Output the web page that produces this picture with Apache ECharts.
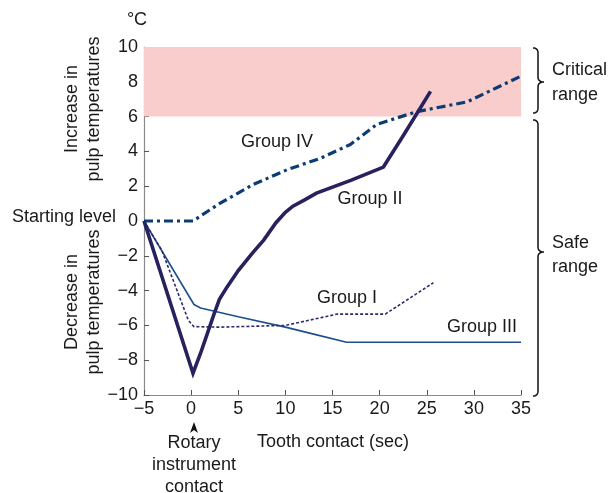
<!DOCTYPE html>
<html><head><meta charset="utf-8">
<script src="https://cdn.jsdelivr.net/npm/echarts@6/dist/echarts.min.js"></script>
<style>html,body{margin:0;padding:0;background:#fff}#c{width:610px;height:493px}</style>
</head><body><div id="c"></div>
<script>
var xTicks = [-5, 0, 5, 10, 15, 20, 25, 30, 35];
var yTicks = [-10, -8, -6, -4, -2, 0, 2, 4, 6, 8, 10];
var criticalRange = [6, 10];

var groupI_x  = [-5, -3.1, -0.3, 0.3, 3, 10, 15.5, 20.6, 25.7];
var groupI_y  = [0, -1.7, -5.7, -6.07, -6.1, -6.0, -5.35, -5.35, -3.55];

var groupII_x = [-5, 0.2, 1.0, 1.7, 2.4, 3.0, 3.8, 5, 6.5, 7.7, 9, 10, 10.8, 12, 13.3, 17, 20.4, 22.5, 25.4];
var groupII_y = [0, -8.75, -7.6, -6.5, -5.4, -4.5, -3.8, -2.85, -1.85, -1.1, -0.1, 0.5, 0.85, 1.2, 1.6, 2.35, 3.1, 4.9, 7.45];

var groupIII_x = [-5, 0.3, 1, 5, 10, 13, 16.5, 35];
var groupIII_y = [0, -4.8, -5.0, -5.5, -6.1, -6.5, -6.97, -6.97];

var groupIV_x = [-5, 0.2, 3, 6.6, 10.2, 13.7, 16.9, 19.7, 23.9, 29.3, 34.9];
var groupIV_y = [0, 0, 1.0, 2.1, 2.95, 3.6, 4.4, 5.55, 6.28, 6.85, 8.3];

function zip(xs, ys) { return xs.map(function (x, i) { return [x, ys[i]]; }); }

var FONT = 'Liberation Sans, Arial, sans-serif';
var TXT = '#1a1a1a';
var chart = echarts.init(document.getElementById('c'), null, {renderer: 'canvas'});

function quad(p0, p1, p2, out) {
  for (var t = 0; t <= 1.0001; t += 0.125) {
    var a = (1 - t) * (1 - t), b = 2 * (1 - t) * t, c = t * t;
    out.push([a * p0[0] + b * p1[0] + c * p2[0], a * p0[1] + b * p1[1] + c * p2[1]]);
  }
}
function brace(x0, x1, x2, yt, ym, yb) {
  var r = 5, pts = [];
  quad([x0, yt], [x1, yt], [x1, yt + r], pts);
  pts.push([x1, ym - r]);
  quad([x1, ym - r], [x1, ym], [x2, ym], pts);
  quad([x2, ym], [x1, ym], [x1, ym + r], pts);
  pts.push([x1, yb - r]);
  quad([x1, yb - r], [x1, yb], [x0, yb], pts);
  return {type: 'polyline', shape: {points: pts}, style: {stroke: '#111', fill: null, lineWidth: 1.5}};
}

function txt(x, y, s, opts) {
  opts = opts || {};
  return {
    type: 'text', x: x, y: y, rotation: opts.rot || 0,
    style: {text: s, font: '18px ' + FONT, fill: TXT,
      textAlign: opts.align || 'center', textVerticalAlign: 'middle', lineHeight: opts.lh || 22}
  };
}

var option = {
  animation: false,
  grid: {left: 144, top: 47, right: 89, bottom: 98, containLabel: false},
  xAxis: {
    type: 'value', min: -5, max: 35, interval: 5,
    axisLine: {show: true, onZero: false, lineStyle: {color: '#8a8a8a', width: 1.2}},
    axisTick: {show: true, inside: true, length: 5, lineStyle: {color: '#555'}},
    axisLabel: {color: TXT, fontSize: 18, fontFamily: FONT, margin: 5,
      formatter: function (v) { return xTicks.indexOf(v) >= 0 ? String(v).replace('-', '\u2212') : ''; }},
    splitLine: {show: false}
  },
  yAxis: {
    type: 'value', min: -10, max: 10, interval: 2,
    axisLine: {show: true, onZero: false, lineStyle: {color: '#8a8a8a', width: 1.2}},
    axisTick: {show: true, inside: true, length: 5, lineStyle: {color: '#555'}},
    axisLabel: {color: TXT, fontSize: 18, fontFamily: FONT, margin: 6,
      formatter: function (v) { return yTicks.indexOf(v) >= 0 ? String(v).replace('-', '\u2212') : ''; }},
    splitLine: {show: false}
  },
  series: [
    {
      name: 'Group III', type: 'line', data: zip(groupIII_x, groupIII_y), symbol: 'none',
      lineStyle: {color: '#1e4f8c', width: 1.6}, z: 3,
      markArea: {silent: true, itemStyle: {color: '#f9cdcb'},
        data: [[{coord: [-5, criticalRange[0]]}, {coord: [35, criticalRange[1]]}]]}
    },
    {
      name: 'Group I', type: 'line', data: zip(groupI_x, groupI_y), symbol: 'none',
      lineStyle: {color: '#2d2a6a', width: 1.6, type: [3, 2]}, z: 3
    },
    {
      name: 'Group IV', type: 'line', data: zip(groupIV_x, groupIV_y), symbol: 'none',
      lineStyle: {color: '#0d3c74', width: 3.2, type: [9, 4, 3, 4]}, z: 4
    },
    {
      name: 'Group II', type: 'line', data: zip(groupII_x, groupII_y), symbol: 'none',
      lineStyle: {color: '#27215e', width: 3.6, join: 'miter'}, z: 5
    }
  ],
  graphic: [
    txt(137, 20, '\u00b0C'),
    txt(277, 142, 'Group IV'),
    txt(370, 199, 'Group II'),
    txt(347, 298, 'Group I'),
    txt(482, 327, 'Group III'),
    txt(64, 217, 'Starting level'),
    txt(83, 109, 'Increase in\npulp temperatures', {rot: Math.PI / 2}),
    txt(83, 302, 'Decrease in\npulp temperatures', {rot: Math.PI / 2}),
    txt(194, 465, 'Rotary\ninstrument\ncontact'),
    txt(333, 442, 'Tooth contact (sec)'),
    txt(552, 70, 'Critical', {align: 'left'}),
    txt(552, 95, 'range', {align: 'left'}),
    txt(552, 243, 'Safe', {align: 'left'}),
    txt(552, 267, 'range', {align: 'left'}),
    {type: 'polygon', shape: {points: [[194, 422], [190, 433], [194, 430], [198, 433]]},
      style: {fill: '#111'}},
    brace(533, 538, 544, 48, 82, 113),
    brace(533, 538, 544, 120, 252, 396)
  ]
};
chart.setOption(option);
</script></body></html>
